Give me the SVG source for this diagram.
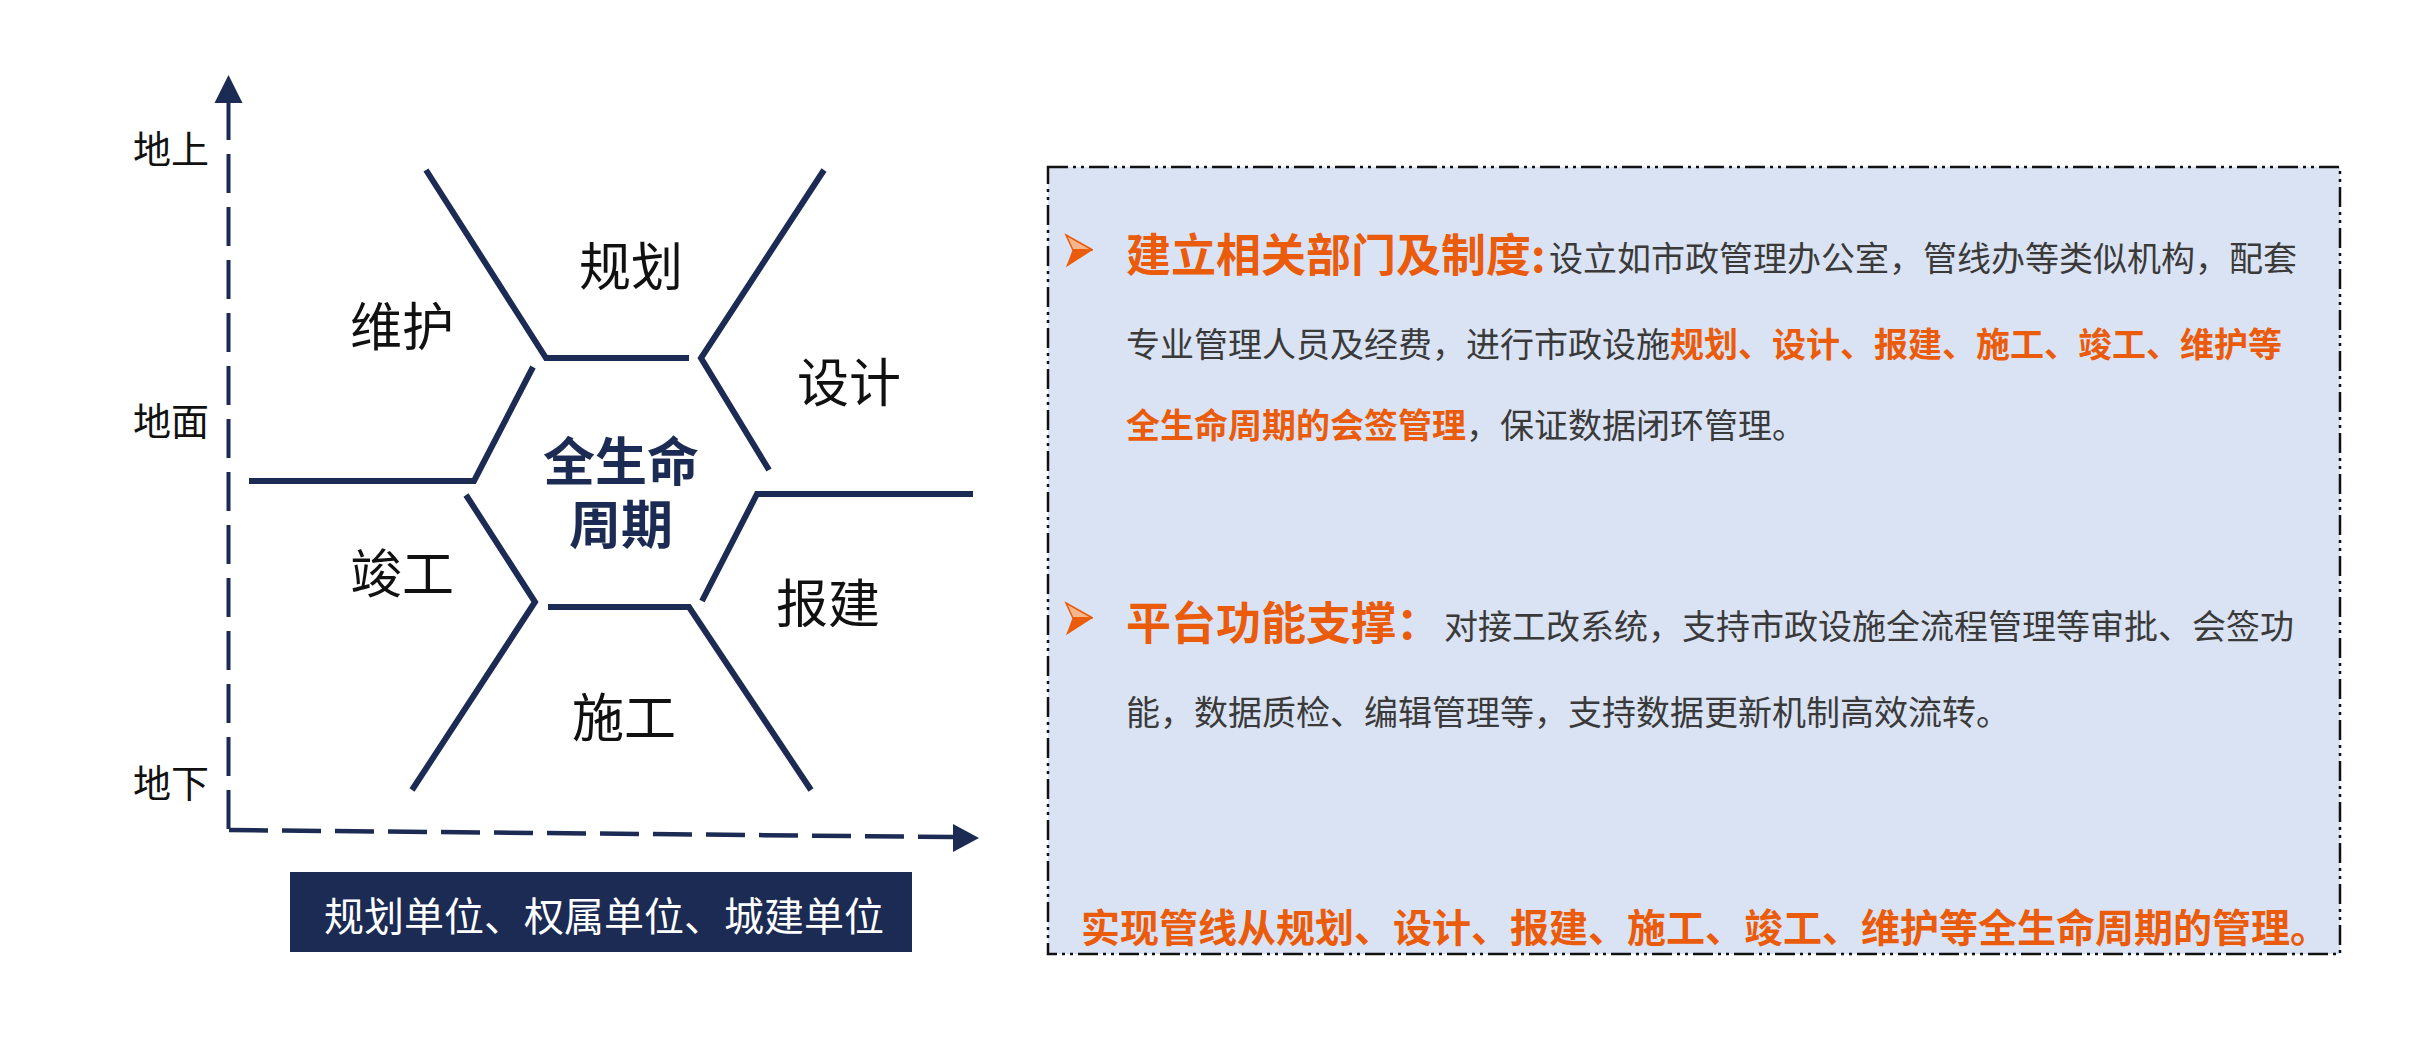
<svg xmlns="http://www.w3.org/2000/svg" width="2421" height="1062" viewBox="0 0 2421 1062">
  <defs>
    <style>
      .cjk { font-family: "Noto Sans CJK SC", "Noto Sans", sans-serif; }
      .lbl { font-size: 52px; fill: #111111; text-anchor: middle; dominant-baseline: central; }
      .axl { font-size: 38px; fill: #111111; text-anchor: middle; dominant-baseline: central; }
      .hex { fill: none; stroke: #1C2B53; stroke-width: 6; stroke-linecap: butt; stroke-linejoin: miter; }
      .axis { fill: none; stroke: #1C2B53; stroke-width: 4; stroke-dasharray: 39 14; }
      .navy { fill: #1C2B53; }
      .body { font-size: 34px; fill: #3A3A3A; dominant-baseline: central; }
      .hl { fill: #EB5B0C; font-weight: 700; }
      .head { font-size: 45px; fill: #EB5B0C; font-weight: 700; }
    </style>
  </defs>
  <rect width="2421" height="1062" fill="#FFFFFF"/>

  <g id="connectors">
    <path class="axis" d="M228.5 829 L228.5 103"/>
    <path class="axis" d="M229 830 L953 837" style="stroke-width:4.5"/>
    <polygon class="navy" points="228.5,75 242.5,103 214.5,103"/>
    <polygon class="navy" points="979,838 953,852 953,824"/>
    <polyline class="hex" points="426,170 546,358 689,358"/>
    <polyline class="hex" points="824,170 701,358 769,470"/>
    <polyline class="hex" points="533,367 474,481 249,481"/>
    <polyline class="hex" points="973,494 757,494 702,601"/>
    <polyline class="hex" points="466,495 535,602 412,790"/>
    <polyline class="hex" points="548,607 689,607 811,790"/>
  </g>

  <g id="axis-labels" class="cjk">
    <text class="axl" x="171" y="146">地上</text>
    <text class="axl" x="171" y="418">地面</text>
    <text class="axl" x="171" y="780">地下</text>
  </g>

  <g id="node-guihua" class="cjk"><text class="lbl" x="631" y="263">规划</text></g>
  <g id="node-weihu" class="cjk"><text class="lbl" x="402" y="323">维护</text></g>
  <g id="node-sheji" class="cjk"><text class="lbl" x="849" y="379">设计</text></g>
  <g id="node-jungong" class="cjk"><text class="lbl" x="402" y="570">竣工</text></g>
  <g id="node-baojian" class="cjk"><text class="lbl" x="828" y="600">报建</text></g>
  <g id="node-shigong" class="cjk"><text class="lbl" x="624" y="714">施工</text></g>

  <g id="node-center" class="cjk">
    <text font-size="52" font-weight="700" fill="#1C2B53" text-anchor="middle" dominant-baseline="central"><tspan x="621" y="458">全生命</tspan><tspan x="621" y="521">周期</tspan></text>
  </g>

  <g id="node-units" class="cjk">
    <rect x="290" y="872" width="622" height="80" fill="#1C2B53"/>
    <text x="604" y="914" font-size="40" fill="#FFFFFF" text-anchor="middle" dominant-baseline="central">规划单位、权属单位、城建单位</text>
  </g>

  <g id="node-panel" class="cjk">
    <rect x="1048" y="167" width="1292" height="787" fill="#DAE3F3" stroke="#111111" stroke-width="2.5" stroke-dasharray="20 5 3 5 3 5"/>
    <polygon points="1066,235 1092.7,250 1072.7,249.5" fill="#F6B58C" stroke="#EB5B0C" stroke-width="1.5" stroke-linejoin="miter"/>
    <polygon points="1072.7,249.5 1092.7,250 1066,267.3" fill="#EB5B0C"/>
    <text class="body" y="256"><tspan class="head" x="1126" y="252">建立相关部门及制度:</tspan><tspan x="1549" y="256">设立如市政管理办公室，管线办等类似机构，配套</tspan></text>
    <text class="body" x="1126" y="342">专业管理人员及经费，进行市政设施<tspan class="hl">规划、设计、报建、施工、竣工、维护等</tspan></text>
    <text class="body" x="1126" y="423"><tspan class="hl">全生命周期的会签管理</tspan>，保证数据闭环管理。</text>

    <polygon points="1066,603 1092.7,618 1072.7,617.5" fill="#F6B58C" stroke="#EB5B0C" stroke-width="1.5" stroke-linejoin="miter"/>
    <polygon points="1072.7,617.5 1092.7,618 1066,635.3" fill="#EB5B0C"/>
    <text class="body" y="624"><tspan class="head" x="1126" y="620">平台功能支撑：</tspan><tspan x="1444" y="624">对接工改系统，支持市政设施全流程管理等审批、会签功</tspan></text>
    <text class="body" x="1126" y="710">能，数据质检、编辑管理等，支持数据更新机制高效流转。</text>

    <text x="1081" y="925" font-size="39" font-weight="700" fill="#EB5B0C" dominant-baseline="central">实现管线从规划、设计、报建、施工、竣工、维护等全生命周期的管理。</text>
  </g>
</svg>
